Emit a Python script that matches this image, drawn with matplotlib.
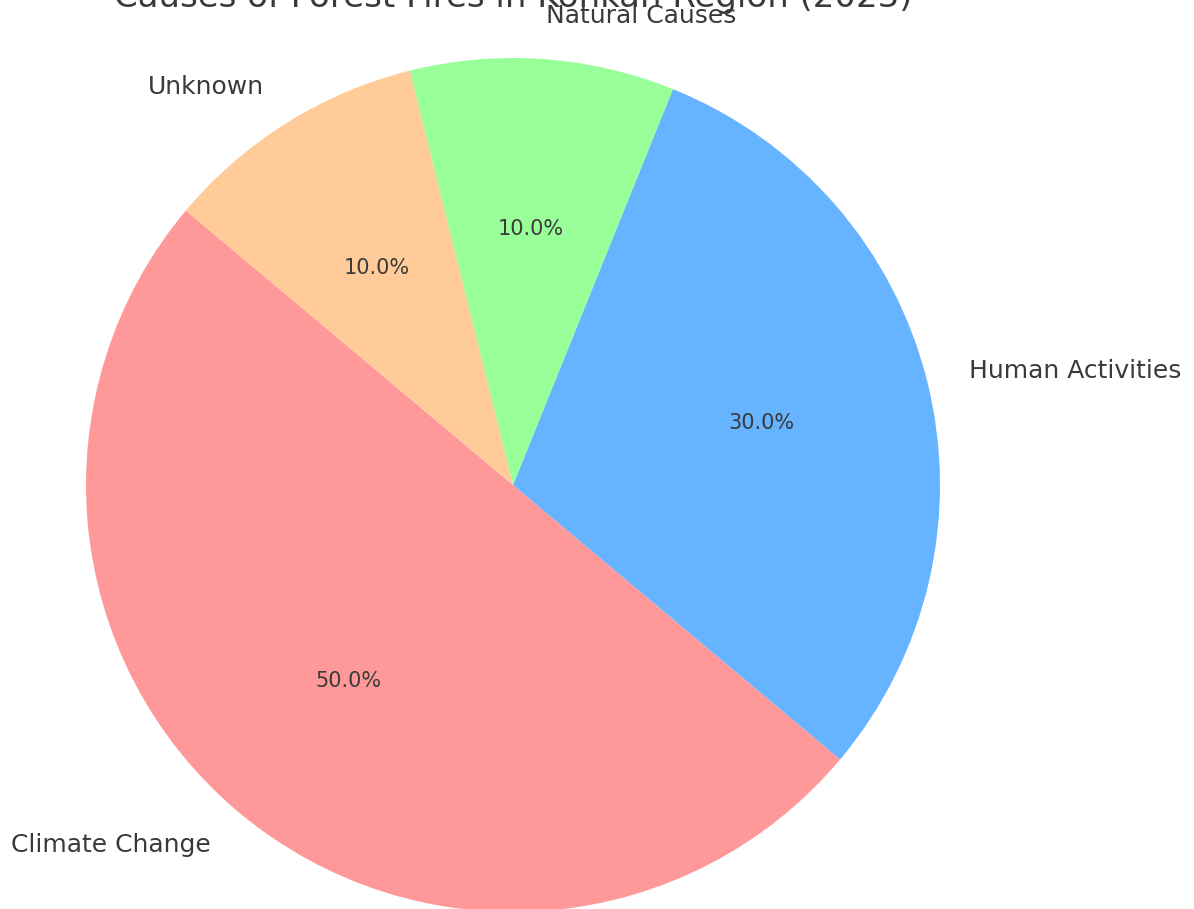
import matplotlib
matplotlib.use('Agg')
import matplotlib.pyplot as plt

causes = ['Climate Change', 'Human Activities', 'Natural Causes', 'Unknown']
shares = [50, 30, 10, 10]
colors = ['#ff9999', '#66b3ff', '#99ff99', '#ffcc99']

plt.rcParams['text.color'] = '#3a3a3a'

fig = plt.figure(figsize=(11.94, 9.09), dpi=100)
# pie box in pixels: x 86..940, y 58..912 (from top)
ax = fig.add_axes([86 / 1194, (909 - 912) / 909, 854 / 1194, 854 / 909])

wedges, texts, autotexts = ax.pie(shares, labels=causes, colors=colors,
                                  autopct='%1.1f%%', startangle=140,
                                  textprops={'fontsize': 18})
for t in autotexts:
    t.set_fontsize(15)

ax.set_xlim(-1, 1)
ax.set_ylim(-1, 1)
ax.set_aspect('equal')
ax.set_title('Causes of Forest Fires in Konkan Region (2023)', fontsize=24.5, pad=37)

fig.savefig('out.png', dpi=100)
